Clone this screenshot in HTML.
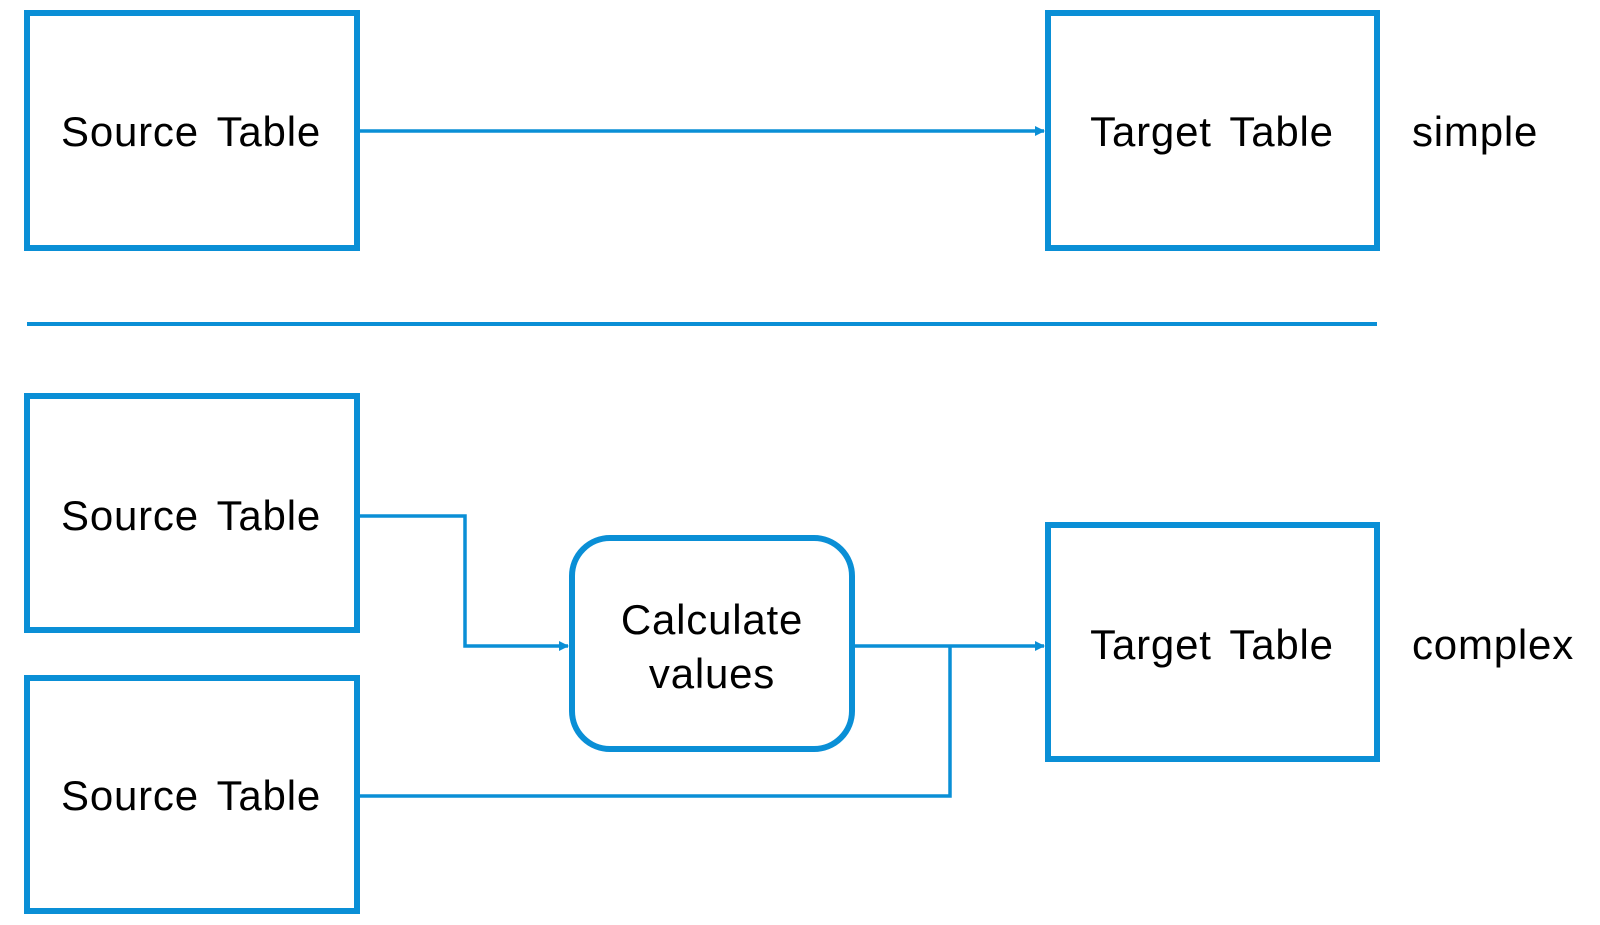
<!DOCTYPE html>
<html><head><meta charset="utf-8"><style>
html,body{margin:0;padding:0;background:#fff;width:1600px;height:925px;overflow:hidden}
svg{display:block}
text{font-family:"Liberation Sans",Arial,sans-serif;fill:#000;letter-spacing:0.8px}
</style></head><body>
<svg width="1600" height="925" viewBox="0 0 1600 925">
<defs>
<marker id="a" markerWidth="10" markerHeight="10" refX="9" refY="5" orient="auto" markerUnits="userSpaceOnUse">
<path d="M0,0 L10,5 L0,10 z" fill="#0a8fd6"/>
</marker>
</defs>
<g fill="none" stroke="#0a8fd6" stroke-width="6">
<rect x="27" y="13" width="330" height="235"/>
<rect x="1048" y="13" width="329" height="235"/>
<rect x="27" y="396" width="330" height="234"/>
<rect x="27" y="678" width="330" height="233"/>
<rect x="1048" y="525" width="329" height="234"/>
<rect x="572" y="538" width="280" height="211" rx="38"/>
</g>
<g fill="none" stroke="#0a8fd6" stroke-width="3.5">
<line x1="27" y1="324" x2="1377" y2="324" stroke-width="4"/>
<line x1="360" y1="131" x2="1044" y2="131" marker-end="url(#a)"/>
<polyline points="360,516 465,516 465,646 568,646" marker-end="url(#a)"/>
<line x1="855" y1="646" x2="1044" y2="646" marker-end="url(#a)"/>
<polyline points="360,796 950,796 950,646"/>
</g>
<g font-size="42" word-spacing="6">
<text x="191" y="146" text-anchor="middle">Source Table</text>
<text x="191" y="530" text-anchor="middle">Source Table</text>
<text x="191" y="810" text-anchor="middle">Source Table</text>
<text x="1212" y="146" text-anchor="middle">Target Table</text>
<text x="1212" y="659" text-anchor="middle">Target Table</text>
<text x="712" y="634" text-anchor="middle">Calculate</text>
<text x="712" y="688" text-anchor="middle">values</text>
<text x="1412" y="146">simple</text>
<text x="1412" y="659">complex</text>
</g>
</svg>
</body></html>
